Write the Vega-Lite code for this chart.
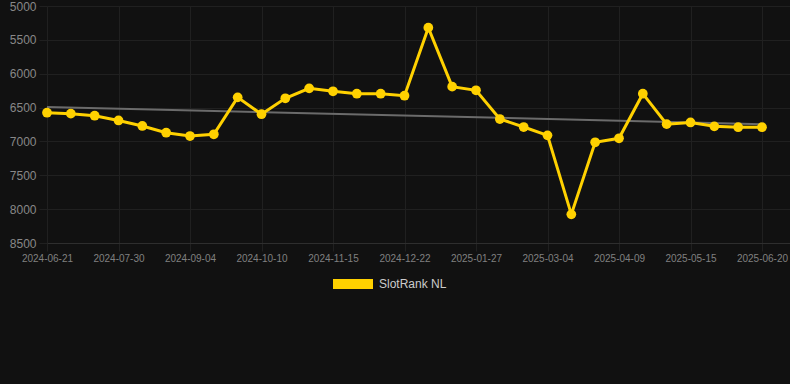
{
  "$schema": "https://vega.github.io/schema/vega-lite/v6.json",
  "width": 743,
  "height": 237,
  "autosize": {"type": "none"},
  "padding": {"left": 47, "top": 6, "right": 0, "bottom": 141},
  "background": "#111111",
  "config": {"view": {"stroke": null}, "font": "Liberation Sans"},
  "datasets": {
    "rank": [
      {"date": "2024-06-21", "rank": 6576, "series": "SlotRank NL"},
      {"date": "2024-07-04", "rank": 6590, "series": "SlotRank NL"},
      {"date": "2024-07-17", "rank": 6620, "series": "SlotRank NL"},
      {"date": "2024-07-30", "rank": 6690, "series": "SlotRank NL"},
      {"date": "2024-08-11", "rank": 6772, "series": "SlotRank NL"},
      {"date": "2024-08-23", "rank": 6871, "series": "SlotRank NL"},
      {"date": "2024-09-04", "rank": 6920, "series": "SlotRank NL"},
      {"date": "2024-09-16", "rank": 6895, "series": "SlotRank NL"},
      {"date": "2024-09-28", "rank": 6349, "series": "SlotRank NL"},
      {"date": "2024-10-10", "rank": 6598, "series": "SlotRank NL"},
      {"date": "2024-10-22", "rank": 6363, "series": "SlotRank NL"},
      {"date": "2024-11-03", "rank": 6216, "series": "SlotRank NL"},
      {"date": "2024-11-15", "rank": 6260, "series": "SlotRank NL"},
      {"date": "2024-11-27", "rank": 6295, "series": "SlotRank NL"},
      {"date": "2024-12-10", "rank": 6295, "series": "SlotRank NL"},
      {"date": "2024-12-22", "rank": 6325, "series": "SlotRank NL"},
      {"date": "2025-01-03", "rank": 5320, "series": "SlotRank NL"},
      {"date": "2025-01-15", "rank": 6191, "series": "SlotRank NL"},
      {"date": "2025-01-27", "rank": 6245, "series": "SlotRank NL"},
      {"date": "2025-02-08", "rank": 6669, "series": "SlotRank NL"},
      {"date": "2025-02-20", "rank": 6787, "series": "SlotRank NL"},
      {"date": "2025-03-04", "rank": 6910, "series": "SlotRank NL"},
      {"date": "2025-03-16", "rank": 8077, "series": "SlotRank NL"},
      {"date": "2025-03-28", "rank": 7013, "series": "SlotRank NL"},
      {"date": "2025-04-09", "rank": 6954, "series": "SlotRank NL"},
      {"date": "2025-04-21", "rank": 6295, "series": "SlotRank NL"},
      {"date": "2025-05-03", "rank": 6745, "series": "SlotRank NL"},
      {"date": "2025-05-15", "rank": 6720, "series": "SlotRank NL"},
      {"date": "2025-05-27", "rank": 6777, "series": "SlotRank NL"},
      {"date": "2025-06-08", "rank": 6790, "series": "SlotRank NL"},
      {"date": "2025-06-20", "rank": 6790, "series": "SlotRank NL"}
    ],
    "trend": [
      {"date": "2024-06-21", "rank": 6490},
      {"date": "2025-06-20", "rank": 6745}
    ]
  },
  "encoding": {
    "x": {
      "field": "date",
      "type": "ordinal",
      "scale": {"type": "point", "padding": 0.5874, "align": 0},
      "axis": {
        "title": null,
        "labelAngle": 0,
        "values": ["2024-06-21", "2024-07-30", "2024-09-04", "2024-10-10", "2024-11-15", "2024-12-22", "2025-01-27", "2025-03-04", "2025-04-09", "2025-05-15", "2025-06-20"],
        "grid": true,
        "gridColor": "#202020",
        "tickColor": "#202020",
        "tickSize": 8,
        "domainColor": "#2e2e2e",
        "labelColor": "#808080",
        "labelFontSize": 10,
        "labelPadding": 2
      }
    },
    "y": {
      "field": "rank",
      "type": "quantitative",
      "scale": {"domain": [5000, 8500], "reverse": true, "nice": false, "zero": false},
      "axis": {
        "title": null,
        "format": "d",
        "values": [5000, 5500, 6000, 6500, 7000, 7500, 8000, 8500],
        "grid": true,
        "gridColor": "#202020",
        "tickColor": "#202020",
        "tickSize": 8,
        "domain": false,
        "labelColor": "#888888",
        "labelFontSize": 12,
        "labelPadding": 3,
        "labelFlush": false
      }
    }
  },
  "layer": [
    {
      "data": {"name": "trend"},
      "mark": {"type": "line", "color": "#6b6b6b", "strokeWidth": 2}
    },
    {
      "data": {"name": "rank"},
      "mark": {"type": "line", "strokeWidth": 3, "point": {"size": 95, "filled": true, "opacity": 1}},
      "encoding": {
        "color": {
          "field": "series",
          "type": "nominal",
          "scale": {"range": ["#FFD100"]},
          "legend": {
            "title": null,
            "orient": "none",
            "legendX": 286,
            "legendY": 268,
            "padding": 0,
            "symbolType": "M-1,-0.5H3V0.5H-1Z",
            "symbolSize": 400,
            "symbolStrokeWidth": 0,
            "labelOffset": 26,
            "labelFontSize": 12,
            "labelColor": "#cccccc",
            "encode": {
              "symbols": {
                "update": {
                  "fill": {"value": "#FFD100"},
                  "stroke": {"value": "#FFD100"},
                  "strokeWidth": {"value": 0},
                  "opacity": {"value": 1},
                  "fillOpacity": {"value": 1}
                }
              }
            }
          }
        }
      }
    }
  ]
}
